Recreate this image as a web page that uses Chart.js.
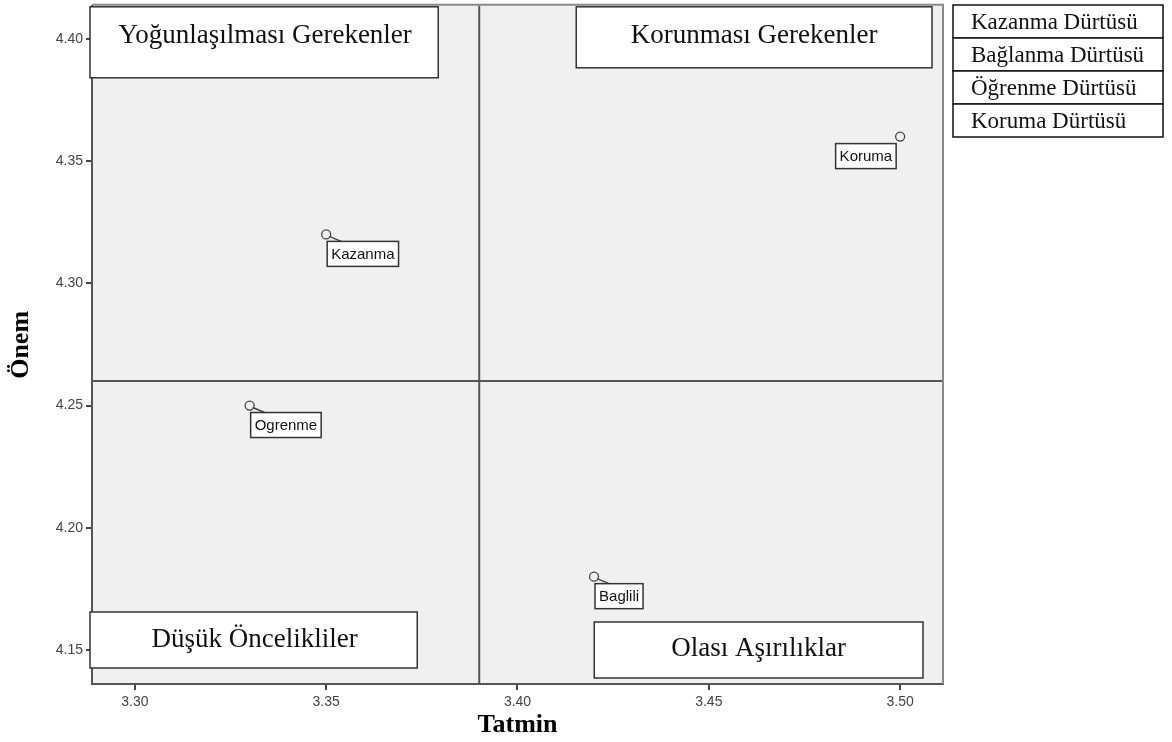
<!DOCTYPE html>
<html>
<head>
<meta charset="utf-8">
<script src="https://cdn.jsdelivr.net/npm/chart.js@4/dist/chart.umd.min.js"></script>
<style>
  body { margin: 0; background: #fff; }
  #wrap { width: 1172px; height: 742px; position: relative; }
</style>
</head>
<body>
<div id="wrap"><canvas id="chart__matrix"></canvas></div>
<script>
// point data
const pointLabels = ["Kazanma", "Koruma", "Ogrenme", "Baglili"];
const tatmin = [3.35, 3.5, 3.33, 3.42];
const onem = [4.32, 4.36, 4.25, 4.18];

// axes
const xTicks = [3.3, 3.35, 3.4, 3.45, 3.5];
const yTicks = [4.15, 4.2, 4.25, 4.3, 4.35, 4.4];
const xRange = [3.2888, 3.5112];
const yRange = [4.1361, 4.4135];

// quadrant split lines
const tatminSplit = 3.39;
const onemSplit = 4.26;

const quadrantNames = [
  "Yoğunlaşılması Gerekenler",
  "Korunması Gerekenler",
  "Düşük Öncelikliler",
  "Olası Aşırılıklar",
];
const legendItems = [
  "Kazanma Dürtüsü",
  "Bağlanma Dürtüsü",
  "Öğrenme Dürtüsü",
  "Koruma Dürtüsü",
];

const serif = "'Liberation Serif', 'Times New Roman', serif";
const sans = "'Liberation Sans', Arial, sans-serif";

// which side of the point each label box sits on
const labelSide = ["right", "left", "right", "right"];

function boxText(ctx, x, y, w, h, text, font, textX, textY) {
  ctx.save();
  ctx.fillStyle = "#fff";
  ctx.fillRect(x, y, w, h);
  ctx.strokeStyle = "#333";
  ctx.lineWidth = 1.5;
  ctx.strokeRect(x, y, w, h);
  ctx.fillStyle = "#111";
  ctx.font = font;
  ctx.textAlign = "center";
  ctx.textBaseline = "middle";
  ctx.fillText(text, textX, textY);
  ctx.restore();
}

const matrixPlugin = {
  id: "matrix",
  beforeDraw(chart) {
    const { ctx, chartArea: a } = chart;
    ctx.save();
    ctx.fillStyle = "#fff";
    ctx.fillRect(0, 0, chart.width, chart.height);
    ctx.fillStyle = "#f0f0f0";
    ctx.fillRect(a.left, a.top, a.right - a.left, a.bottom - a.top);
    ctx.restore();
  },
  beforeDatasetsDraw(chart) {
    const { ctx, chartArea: a, scales } = chart;
    const sx = scales.x.getPixelForValue(tatminSplit);
    const sy = scales.y.getPixelForValue(onemSplit);
    ctx.save();
    ctx.strokeStyle = "#555";
    ctx.lineWidth = 2;
    ctx.beginPath();
    ctx.moveTo(sx, a.top);
    ctx.lineTo(sx, a.bottom);
    ctx.moveTo(a.left, sy);
    ctx.lineTo(a.right, sy);
    ctx.stroke();
    // top and right frame of the plot
    ctx.strokeStyle = "#888";
    ctx.beginPath();
    ctx.moveTo(a.left, a.top - 1);
    ctx.lineTo(a.right, a.top - 1);
    ctx.lineTo(a.right, a.bottom);
    ctx.stroke();
    ctx.restore();
  },
  afterDatasetsDraw(chart) {
    const { ctx, chartArea: a, scales } = chart;
    const sx = scales.x.getPixelForValue(tatminSplit);
    const labelFont = "15px " + sans;

    // point labels
    ctx.save();
    ctx.font = labelFont;
    pointLabels.forEach((label, i) => {
      const px = scales.x.getPixelForValue(tatmin[i]);
      const py = scales.y.getPixelForValue(onem[i]);
      const w = ctx.measureText(label).width + 8;
      const h = 25;
      const top = py + 7;
      let left;
      if (labelSide[i] === "right") {
        left = px + 1;
        ctx.strokeStyle = "#444";
        ctx.lineWidth = 1.5;
        ctx.beginPath();
        ctx.moveTo(px + 3, py + 2);
        ctx.lineTo(px + 15, py + 7);
        ctx.stroke();
      } else {
        left = px - 4 - w;
      }
      boxText(ctx, left, top, w, h, label, labelFont, left + w / 2, top + h / 2 + 1);
      ctx.font = labelFont;
    });
    ctx.restore();

    // quadrant name boxes
    const qFont = "27px " + serif;
    boxText(ctx, a.left - 2, a.top + 1, sx - 39 - a.left, 71, quadrantNames[0], qFont,
      (a.left + sx - 41) / 2, a.top + 30);
    boxText(ctx, sx + 97, a.top + 1, a.right - 11 - sx - 97, 61, quadrantNames[1], qFont,
      (sx + 97 + a.right - 11) / 2, a.top + 30);
    boxText(ctx, a.left - 2, a.bottom - 72, sx - 60 - a.left, 56, quadrantNames[2], qFont,
      (a.left + sx - 62) / 2, a.bottom - 44);
    boxText(ctx, sx + 115, a.bottom - 62, a.right - 20 - sx - 115, 56, quadrantNames[3], qFont,
      (sx + 115 + a.right - 20) / 2, a.bottom - 35);

    // legend table on the right
    const lx = 953, ly = 5, lw = 210, rh = 33;
    legendItems.forEach((item, i) => {
      ctx.save();
      ctx.fillStyle = "#fff";
      ctx.fillRect(lx, ly + i * rh, lw, rh);
      ctx.strokeStyle = "#111";
      ctx.lineWidth = 1.5;
      ctx.strokeRect(lx, ly + i * rh, lw, rh);
      ctx.fillStyle = "#111";
      ctx.font = "23px " + serif;
      ctx.textBaseline = "middle";
      ctx.fillText(item, 971, ly + i * rh + rh / 2 + 1);
      ctx.restore();
    });
  },
};

const ctx = document.getElementById("chart__matrix");
new Chart(ctx, {
  type: "scatter",
  data: {
    datasets: [
      {
        data: tatmin.map((x, i) => ({ x: x, y: onem[i] })),
        pointRadius: 4.5,
        pointHoverRadius: 4.5,
        borderColor: "#444",
        backgroundColor: "#f0f0f0",
        borderWidth: 1.3,
      },
    ],
  },
  options: {
    responsive: true,
    maintainAspectRatio: false,
    animation: false,
    events: [],
    layout: { padding: { top: 4, right: 229, left: 0, bottom: 0 } },
    plugins: { legend: { display: false }, tooltip: { enabled: false } },
    scales: {
      x: {
        type: "linear",
        min: xRange[0],
        max: xRange[1],
        afterBuildTicks(scale) {
          scale.ticks = xTicks.map((v) => ({ value: v }));
        },
        afterFit(scale) {
          scale.height = 58;
          scale.paddingLeft = 0;
          scale.paddingRight = 0;
        },
        ticks: {
          color: "#444",
          font: { family: sans, size: 14 },
          padding: 4,
          maxRotation: 0,
          callback: (v) => v.toFixed(2),
        },
        grid: {
          drawOnChartArea: false,
          drawTicks: true,
          tickLength: 6,
          tickColor: "#444",
          lineWidth: 2,
        },
        border: { display: true, color: "#555", width: 2 },
        title: {
          display: true,
          text: "Tatmin",
          color: "#000",
          font: { family: serif, size: 26, weight: "bold" },
          padding: { top: 1, bottom: 1 },
        },
      },
      y: {
        type: "linear",
        min: yRange[0],
        max: yRange[1],
        afterBuildTicks(scale) {
          scale.ticks = yTicks.map((v) => ({ value: v }));
        },
        afterFit(scale) {
          scale.width = 92;
          scale.paddingTop = 0;
          scale.paddingBottom = 0;
        },
        ticks: {
          color: "#444",
          font: { family: sans, size: 14 },
          padding: 3,
          callback: (v) => v.toFixed(2),
        },
        grid: {
          drawOnChartArea: false,
          drawTicks: true,
          tickLength: 6,
          tickColor: "#444",
          lineWidth: 2,
        },
        border: { display: true, color: "#555", width: 2 },
        title: {
          display: true,
          text: "Önem",
          color: "#000",
          font: { family: serif, size: 26, weight: "bold" },
          padding: { top: 6, bottom: 0 },
        },
      },
    },
  },
  plugins: [matrixPlugin],
});
</script>
</body>
</html>
